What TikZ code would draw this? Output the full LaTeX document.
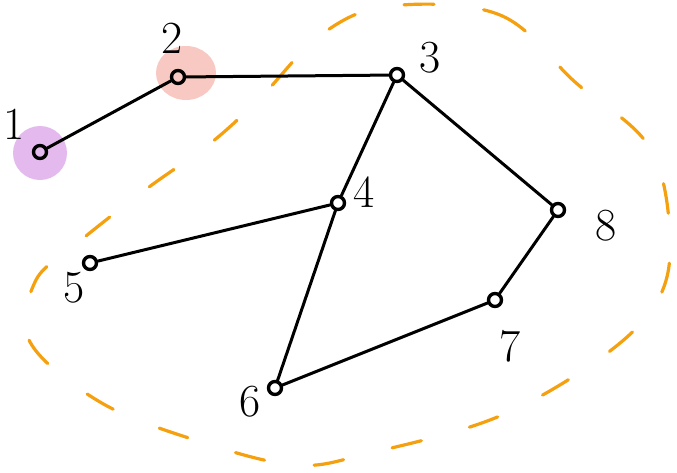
\documentclass[tikz,border=0pt]{standalone}
\usepackage{tikz}
\usetikzlibrary{positioning, calc}
\usetikzlibrary{arrows.meta}
\definecolor{blobpurple}{HTML}{E4BAEE}
\definecolor{blobpink}{HTML}{F8C9C2}
\definecolor{ringorange}{HTML}{F5A00F}

\begin{document}
\begin{tikzpicture}[x=1pt, y=-1pt, >=stealth, font=\fontsize{46}{50}\selectfont,
  vertex/.style={circle, draw=black, line width=3.4pt, minimum size=13pt, inner sep=0pt},
  edge/.style={line width=3pt, line cap=round},
  lbl/.style={inner sep=0pt}]
\useasboundingbox (0,0) rectangle (677,472);

% --- Anello arancione tratteggiato ---
\draw[ringorange, line width=3.2pt, dash pattern=on 30pt off 50pt, line cap=round]
  plot[smooth cycle, tension=0.6] coordinates {
    (390,6) (500,15) (575,82) (650,148) (670,240) (655,305) (595,362)
    (495,418) (370,453) (295,465) (195,440) (100,402) (30,342) (35,282)
    (75,245) (145,190) (212,142) (262,96) (322,34)};

% --- Macchie colorate ---
\fill[blobpurple] (40,153) circle (27pt);
\fill[blobpink] (186,73) ellipse (30pt and 27pt);

% --- Vertici ---
\foreach \n/\x/\y in {1/40/152, 2/178/77, 3/397/75, 4/338/203,
                      5/90/263, 6/275/388, 7/495/300, 8/558/210}{
  \node[vertex] (n\n) at (\x,\y) {};
}

% --- Etichette ---
\foreach \n/\x/\y in {1/14/124, 2/172/38, 3/430/58, 4/364/192,
                      5/74/288, 6/250/402, 7/510/346, 8/606/226}{
  \node[lbl] (l\n) at (\x,\y) {\n};
}

% --- Archi ---
\foreach \a/\b in {1/2, 2/3, 3/4, 3/8, 4/5, 4/6, 8/7, 7/6}{
  \draw[edge] (n\a) -- (n\b);
}

\end{tikzpicture}
\end{document}
